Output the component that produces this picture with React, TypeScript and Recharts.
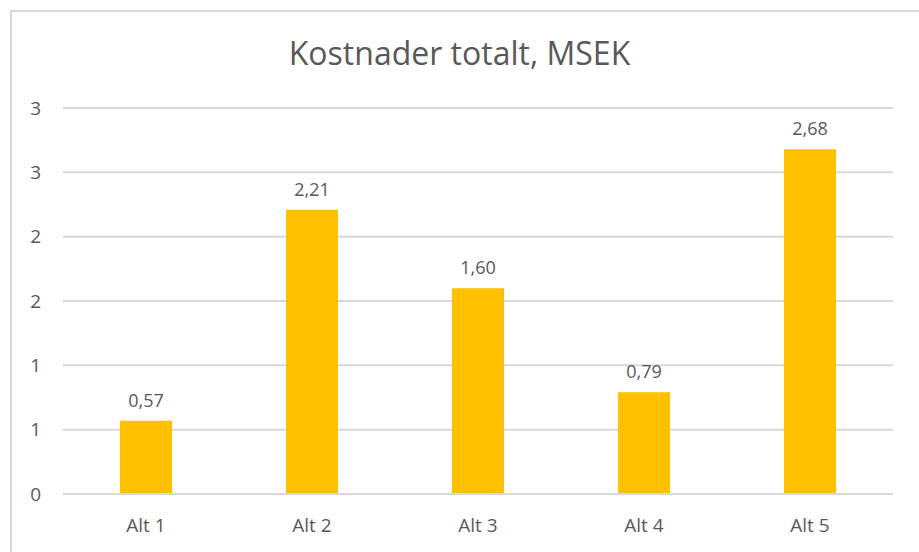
import React from 'react';
import { BarChart, Bar, XAxis, YAxis, CartesianGrid, LabelList } from 'recharts';

const categories = ['Alt 1', 'Alt 2', 'Alt 3', 'Alt 4', 'Alt 5'];
const costs = [0.57, 2.21, 1.6, 0.79, 2.68];
const yTicks = [0, 0.5, 1, 1.5, 2, 2.5, 3];
const yTickLabels = ['0', '1', '1', '2', '2', '3', '3'];
const title = 'Kostnader totalt, MSEK';

const data = categories.map((name, i) => ({ name, value: costs[i] }));

const FONT = '"Open Sans", sans-serif';
const TEXT = '#595959';

export default function App() {
  return (
    <div style={{ position: 'absolute', left: 0, top: 0, width: 919, height: 552, overflow: 'hidden', background: '#fff', fontFamily: FONT }}>
      <div style={{ position: 'absolute', left: 10, top: 10, width: 930, height: 570, border: '2px solid #d9d9d9', boxSizing: 'border-box' }} />
      <div style={{ position: 'absolute', left: 0, top: 30, width: 919, textAlign: 'center', fontSize: 32, color: TEXT, lineHeight: '46px' }}>{title}</div>
      <div style={{ position: 'absolute', left: 0, top: 0 }}>
        <BarChart width={919} height={552} data={data} margin={{ top: 108, right: 26, bottom: 28, left: 23 }} barSize={52}>
          <CartesianGrid vertical={false} stroke="#d9d9d9" strokeWidth={2} />
          <XAxis
            dataKey="name"
            height={30}
            axisLine={{ stroke: '#d9d9d9', strokeWidth: 2 }}
            tickLine={false}
            tickSize={0}
            tickMargin={25}
            tick={{ fill: TEXT, fontSize: 19, fontFamily: FONT }}
          />
          <YAxis
            width={40}
            domain={[0, 3]}
            ticks={yTicks}
            interval={0}
            axisLine={false}
            tickLine={false}
            tickSize={0}
            tickMargin={22}
            tickFormatter={(v: number) => yTickLabels[yTicks.indexOf(v)] ?? ''}
            tick={{ fill: TEXT, fontSize: 19, fontFamily: FONT }}
          />
          <Bar dataKey="value" fill="#ffc000" isAnimationActive={false}>
            <LabelList
              dataKey="value"
              position="top"
              offset={14}
              formatter={(v: number) => v.toFixed(2).replace('.', ',')}
              style={{ fill: TEXT, fontSize: 18, fontFamily: FONT }}
            />
          </Bar>
        </BarChart>
      </div>
    </div>
  );
}
